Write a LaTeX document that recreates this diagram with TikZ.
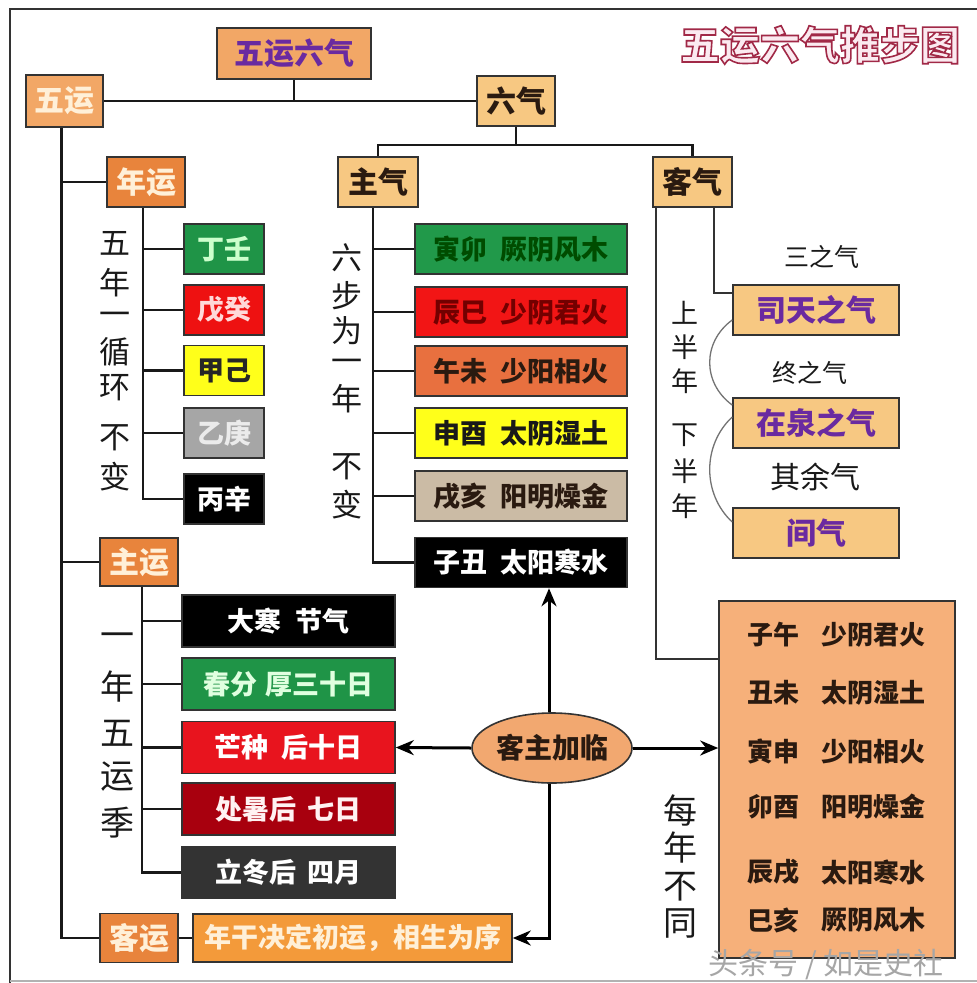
\documentclass[tikz,border=0pt]{standalone}
\usepackage{fontspec}
\setmainfont{Noto Sans CJK SC}
\usetikzlibrary{arrows.meta,shapes.geometric,calc}
\newcommand\myfs[1]{\fontsize{#1}{#1}\selectfont}
\newcommand\outlinetext[1]{\special{pdf:literal direct 2 Tr 1.6 w 0.63 0.16 0.28 RG}#1\special{pdf:literal direct 0 Tr}}
\definecolor{orA}{HTML}{F2A766}
\definecolor{orB}{HTML}{E8843C}
\definecolor{orC}{HTML}{F7C882}
\definecolor{orD}{HTML}{F39A3A}
\definecolor{orE}{HTML}{F2A870}
\definecolor{orF}{HTML}{F6B07A}
\definecolor{cream}{HTML}{FFF0D8}
\definecolor{purp}{HTML}{6A2AA0}
\definecolor{dk}{HTML}{2A1A10}
\definecolor{gA}{HTML}{1F9447}
\definecolor{rA}{HTML}{EE1111}
\definecolor{yA}{HTML}{FFFF1A}
\definecolor{grA}{HTML}{A6A6A6}
\definecolor{gB}{HTML}{21994A}
\definecolor{rB}{HTML}{F21515}
\definecolor{oB}{HTML}{E8703F}
\definecolor{tanB}{HTML}{CBBBA5}
\definecolor{rC}{HTML}{E8141E}
\definecolor{rD}{HTML}{A8000E}
\definecolor{dgC}{HTML}{333333}
\definecolor{titred}{HTML}{A02848}
\definecolor{titfill}{HTML}{FBEAF0}
\begin{document}
\begin{tikzpicture}[x=1pt,y=-1pt,
  bx/.style={draw=black!80, line width=1.6pt, inner sep=0pt, font=\bfseries\myfs{27}},
  conn/.style={line width=2.8pt, draw=black!90},
  curvln/.style={line width=1.3pt, draw=black!55},
  arrw/.style={line width=3pt, draw=black, -{Stealth[length=18pt,width=15pt]}},
  vt/.style={inner sep=0pt, font=\myfs{31}, text=black!90},
  lbl/.style={inner sep=0pt, font=\myfs{25}, text=black!90},
  bb/.style={inner sep=0pt, font=\bfseries\myfs{26}, text=dk}]
\useasboundingbox (0,0) rectangle (977,983);
\fill[white] (0,0) rectangle (977,983);
% frame
\draw[line width=2pt, black!80] (10,983) -- (10,9) -- (977,9);
\draw[line width=1.5pt, black!30] (10,981) -- (977,981);
% title (outlined)
\node[inner sep=0pt, font=\bfseries\myfs{40}, text=titfill] (title) at (820,45) {\outlinetext{五运六气推步图}};
% top level
\node[bx, fill=orA, text=purp, minimum width=154pt, minimum height=51pt, font=\bfseries\myfs{30}] (top) at (294,53.5) {五运六气};
\node[bx, fill=orA, text=cream, minimum width=77pt, minimum height=52pt, font=\bfseries\myfs{30}] (wuyun) at (64.5,101) {五运};
\node[bx, fill=orC, text=dk, minimum width=78pt, minimum height=50pt, font=\bfseries\myfs{30}] (liuqi) at (516,101) {六气};
\node[bx, fill=orC, text=dk, minimum width=80pt, minimum height=50pt, font=\bfseries\myfs{30}] (zhuqi) at (378,182) {主气};
\node[bx, fill=orC, text=dk, minimum width=79pt, minimum height=50pt, font=\bfseries\myfs{30}] (keqi) at (692.5,182) {客气};
\node[bx, fill=orB, text=cream, minimum width=78pt, minimum height=50pt, font=\bfseries\myfs{30}] (nianyun) at (146,182) {年运};
\node[bx, fill=orB, text=cream, minimum width=78pt, minimum height=48pt, font=\bfseries\myfs{30}] (zhuyun) at (139,562) {主运};
\node[bx, fill=orB, text=cream, minimum width=78pt, minimum height=49pt, font=\bfseries\myfs{30}] (keyun) at (139,938) {客运};
\node[bx, fill=orD, text=cream, minimum width=319pt, minimum height=48pt] (desc) at (352.5,938) {年干决定初运，相生为序};
% nianyun children
\node[bx, fill=gA, text={green!20}, minimum width=80pt, minimum height=50pt] (n1) at (224,249) {丁壬};
\node[bx, fill=rA, text={red!15}, minimum width=80pt, minimum height=50pt] (n2) at (224,310) {戊癸};
\node[bx, fill=yA, text=black!85, minimum width=80pt, minimum height=50pt] (n3) at (224,370.5) {甲己};
\node[bx, fill=grA, text=white!92!black, minimum width=80pt, minimum height=50pt] (n4) at (224,433) {乙庚};
\node[bx, fill=black, text=white, minimum width=80pt, minimum height=50pt] (n5) at (224,499) {丙辛};
% zhuqi children
\node[bx, fill=gB, text={black!70!green}, minimum width=212pt, minimum height=50pt] (q1) at (521,249) {寅卯\hspace{0.5em}厥阴风木};
\node[bx, fill=rB, text={black!55!red}, minimum width=212pt, minimum height=50pt] (q2) at (521,312) {辰巳\hspace{0.5em}少阴君火};
\node[bx, fill=oB, text=dk, minimum width=212pt, minimum height=50pt] (q3) at (521,371) {午未\hspace{0.5em}少阳相火};
\node[bx, fill=yA, text=black!90, minimum width=212pt, minimum height=50pt] (q4) at (521,433) {申酉\hspace{0.5em}太阴湿土};
\node[bx, fill=tanB, text=dk, minimum width=212pt, minimum height=50pt] (q5) at (521,496) {戌亥\hspace{0.5em}阳明燥金};
\node[bx, fill=black, text=white, minimum width=212pt, minimum height=50pt] (q6) at (521,562.5) {子丑\hspace{0.5em}太阳寒水};
% keqi children
\node[bx, fill=orC, text=purp, minimum width=166pt, minimum height=50pt, font=\bfseries\myfs{30}] (sitian) at (816,310) {司天之气};
\node[bx, fill=orC, text=purp, minimum width=166pt, minimum height=50pt, font=\bfseries\myfs{30}] (zaiquan) at (816,423) {在泉之气};
\node[bx, fill=orC, text=purp, minimum width=166pt, minimum height=50pt, font=\bfseries\myfs{30}] (jianqi) at (816,533) {间气};
% zhuyun children
\node[bx, fill=black, text=white, minimum width=213pt, minimum height=52pt] (y1) at (288.5,621) {大寒\hspace{0.5em}节气};
\node[bx, fill=gA, text={green!12}, minimum width=213pt, minimum height=52pt] (y2) at (288.5,684) {春分\hspace{0.3em}厚三十日};
\node[bx, fill=rC, text=white, minimum width=213pt, minimum height=52pt] (y3) at (288.5,747.5) {芒种\hspace{0.5em}后十日};
\node[bx, fill=rD, text=white!95!red, minimum width=213pt, minimum height=52pt] (y4) at (288.5,809) {处暑后\hspace{0.4em}七日};
\node[bx, fill=dgC, text=white, minimum width=213pt, minimum height=52pt] (y5) at (288.5,872.5) {立冬后\hspace{0.4em}四月};
% ellipse and big box
\node[ellipse, draw=black!80, line width=1.6pt, fill=orE, inner sep=0pt, minimum width=160pt, minimum height=70pt, font=\bfseries\myfs{28}, text=dk] (kzjl) at (552,748) {客主加临};
\node[draw=black!80, line width=1.6pt, fill=orF, minimum width=236pt, minimum height=357pt, inner sep=0pt] (big) at (837,779.5) {};
\foreach \a/\b/\yy [count=\i] in {子午/少阴君火/635,丑未/太阴湿土/693,寅申/少阳相火/752,卯酉/阳明燥金/807,辰戌/太阳寒水/872,巳亥/厥阴风木/920}{
  \node[bb] (ba\i) at (773,\yy) {\a};
  \node[bb] (bc\i) at (873,\yy) {\b};
}
% vertical texts
\foreach \c/\yy [count=\i] in {五/243,年/283,一/319,循/352,环/388,不/438,变/477}
  \node[vt] (va\i) at (115,\yy) {\c};
\foreach \c/\yy [count=\i] in {六/258,步/296,为/331,一/366,年/399,不/467,变/505}
  \node[vt] (vb\i) at (347,\yy) {\c};
\foreach \c/\yy [count=\i] in {一/640,年/687,五/733,运/777,季/823}
  \node[vt, font=\myfs{34}] (vc\i) at (117,\yy) {\c};
\foreach \c/\yy [count=\i] in {每/810,年/848,不/887,同/923}
  \node[vt, font=\myfs{34}] (vd\i) at (680,\yy) {\c};
\foreach \c/\yy [count=\i] in {上/313,半/347,年/381,下/435,半/471,年/506}
  \node[vt, font=\myfs{27}] (ve\i) at (685,\yy) {\c};
% labels
\node[lbl] (l1) at (822,257) {三之气};
\node[lbl] (l2) at (810,373) {终之气};
\node[lbl, font=\myfs{30}] (l3) at (815,477) {其余气};
% watermark
\node[inner sep=0pt, font=\myfs{30}, text=black!35] (wm) at (826,965) {头条号 / 如是史社};
% connectors top
\draw[conn] (wuyun.east) -- (liuqi.west);
\draw[conn] (top.south) -- (top.south |- wuyun.east);
\draw[conn] (liuqi.south) -- (liuqi.south |- 0,145);
\draw[conn] (zhuqi.north) |- (0,145 -| keqi.north) -- (keqi.north);
% wuyun trunk
\draw[conn] ([xshift=-3pt]wuyun.south) |- (keyun.west);
\draw[conn] ([xshift=-3pt]wuyun.south |- nianyun.west) -- (nianyun.west);
\draw[conn] ([xshift=-3pt]wuyun.south |- zhuyun.west) -- (zhuyun.west);
\draw[conn] (keyun.east) -- (desc.west);
% nianyun branch
\draw[conn] ([xshift=-3pt]nianyun.south) |- (n5.west);
\foreach \k in {n1,n2,n3,n4}
  \draw[conn] ([xshift=-3pt]nianyun.south |- \k.west) -- (\k.west);
% zhuqi branch
\draw[conn] ([xshift=-5pt]zhuqi.south) |- (q6.west);
\foreach \k in {q1,q2,q3,q4,q5}
  \draw[conn] ([xshift=-5pt]zhuqi.south |- \k.west) -- (\k.west);
% zhuyun branch
\draw[conn] ([xshift=3pt]zhuyun.south) |- (y5.west);
\foreach \k in {y1,y2,y3,y4}
  \draw[conn] ([xshift=3pt]zhuyun.south |- \k.west) -- (\k.west);
% keqi lines
\draw[line width=2pt, draw=black!80] ([xshift=4pt]keqi.south west) |- ([yshift=-59pt]big.north west);
\draw[line width=2pt, draw=black!80] ([xshift=-19pt]keqi.south east) |- ([yshift=17pt]sitian.west);
\draw[curvln] ([yshift=-10pt]sitian.west) .. controls +(-30,22) and +(-30,-22) .. ([yshift=18pt]zaiquan.west);
\draw[curvln] ([yshift=6pt]zaiquan.west) .. controls +(-30,28) and +(-30,-28) .. ([yshift=11pt]jianqi.west);
% ellipse arrows
\draw[arrw] ([xshift=-3pt]kzjl.north) -- ([xshift=-3pt]kzjl.north |- q6.south);
\draw[arrw] (kzjl.west) -- (y3.east);
\draw[arrw] (kzjl.east) -- (kzjl.east -| big.west);
\draw[arrw] ([xshift=-3pt]kzjl.south) |- (desc.east);
\end{tikzpicture}
\end{document}
